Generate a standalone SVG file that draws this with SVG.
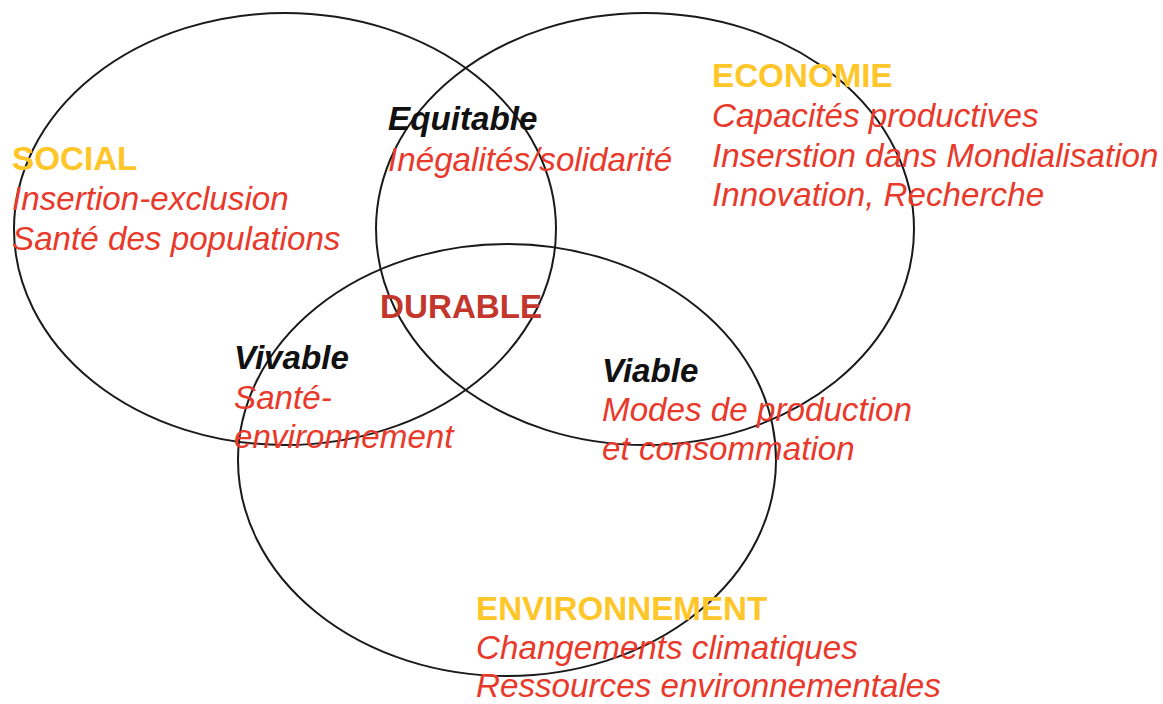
<svg xmlns="http://www.w3.org/2000/svg" width="1163" height="704" viewBox="0 0 1163 704">
<style>
.c{fill:none;stroke:#1a1a1a;stroke-width:2}
text{font-family:"Liberation Sans",Arial,sans-serif;font-size:33.2px}
.h{fill:#FFC629;font-weight:bold}
.r{fill:#E8392B;font-style:italic}
.k{fill:#111;font-weight:bold;font-style:italic}
.d{fill:#C3362B;font-weight:bold}
</style>
<rect width="1163" height="704" fill="#fff"/>
<g id="connectors">
<ellipse id="e-social" class="c" cx="285" cy="229" rx="271" ry="216"/>
<ellipse id="e-eco" class="c" cx="645" cy="229" rx="269" ry="216"/>
<ellipse id="e-env" class="c" cx="507" cy="460" rx="269" ry="216"/>
</g>
<g id="social">
<text class="h" x="12" y="170">SOCIAL</text>
<text class="r" x="12" y="210">Insertion-exclusion</text>
<text class="r" x="12" y="250">Santé des populations</text>
</g>
<g id="equitable">
<text class="k" x="388" y="130">Equitable</text>
<text class="r" x="388" y="171">Inégalités/solidarité</text>
</g>
<g id="economie">
<text class="h" x="712" y="87">ECONOMIE</text>
<text class="r" x="712" y="127">Capacités productives</text>
<text class="r" x="712" y="167">Inserstion dans Mondialisation</text>
<text class="r" x="712" y="206">Innovation, Recherche</text>
</g>
<g id="durable">
<text class="d" x="380" y="318">DURABLE</text>
</g>
<g id="vivable">
<text class="k" x="234" y="369">Vivable</text>
<text class="r" x="234" y="409">Santé-</text>
<text class="r" x="234" y="448">environnement</text>
</g>
<g id="viable">
<text class="k" x="602" y="382">Viable</text>
<text class="r" x="602" y="421">Modes de production</text>
<text class="r" x="602" y="460">et consommation</text>
</g>
<g id="environnement">
<text class="h" x="476" y="620">ENVIRONNEMENT</text>
<text class="r" x="476" y="659">Changements climatiques</text>
<text class="r" x="476" y="697">Ressources environnementales</text>
</g>
</svg>
